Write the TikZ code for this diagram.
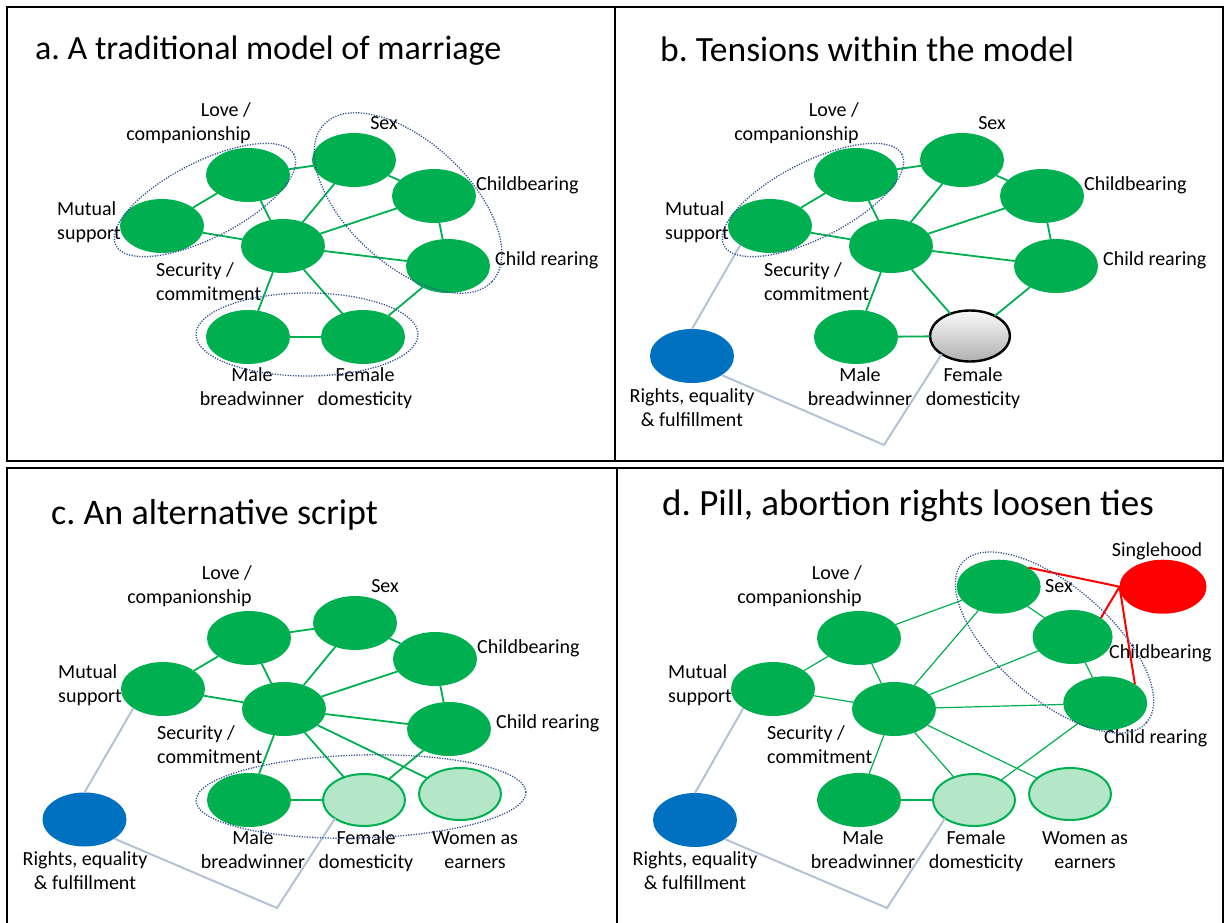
\documentclass[tikz,border=0pt]{standalone}
\usepackage{fontspec}
\setmainfont{Carlito}
\usetikzlibrary{shapes.geometric}
\frenchspacing

\definecolor{nodegreen}{RGB}{0,176,80}
\definecolor{palegreen}{RGB}{180,230,200}
\definecolor{rightsblue}{RGB}{0,112,192}
\definecolor{groupblue}{RGB}{50,80,150}
\definecolor{tiegray}{RGB}{180,194,214}

\begin{document}
\begin{tikzpicture}[x=1pt, y=-1pt,
  blob/.style={ellipse, minimum width=84, minimum height=54, inner sep=0, outer sep=0},
  core/.style={blob, fill=nodegreen},
  faded/.style={blob, minimum width=82, minimum height=52, fill=palegreen, draw=nodegreen, line width=2},
  rights/.style={blob, fill=rightsblue},
  single/.style={blob, minimum width=87, fill=red},
  strained/.style={blob, minimum width=80, minimum height=51, draw=black, line width=2.4,
                   top color=gray!4, bottom color=gray!62},
  link/.style={draw=nodegreen, line width=1.8},
  thinlink/.style={draw=nodegreen, line width=1.2},
  tie/.style={draw=tiegray, line width=2},
  redtie/.style={draw=red, line width=2},
  group/.style={ellipse, draw=groupblue, line width=1.3, dash pattern=on 1.2pt off 1.4pt, inner sep=0},
  lab/.style={font=\fontsize{20}{24}\selectfont, inner sep=0},
  heading/.style={anchor=base west, inner sep=0},
  frame/.style={line width=2}]

\useasboundingbox[fill=white] (0,0) rectangle (1228,923);

% panel frames
\draw[frame] (7,7) rectangle (1223,461);
\draw[frame] (615,7) -- (615,461);
\draw[frame] (7,923) -- (7,468) -- (1223,468) -- (1223,923);
\draw[frame] (617,468) -- (617,923);

% ---------------- a. traditional model ----------------
\begin{scope}
\node[heading, font=\fontsize{34}{40}\selectfont] (a-title) at (35,60) {a. A traditional model of marriage};
\node[core] (a-love)  at (248,175) {};
\node[core] (a-mut)   at (162,226) {};
\node[core] (a-sex)   at (354,160) {};
\node[core] (a-cbear) at (434,196) {};
\node[core] (a-sec)   at (283,246) {};
\node[core] (a-crear) at (448,266) {};
\node[core] (a-male)  at (248,337) {};
\node[core] (a-fem)   at (363,337) {};
\draw[link] (a-mut) -- (a-love);
\draw[link] (a-love) -- (a-sec);
\draw[link] (a-love) -- (a-sex);
\draw[link] (a-mut) -- (a-sec);
\draw[link] (a-sex) -- (a-sec);
\draw[link] (a-sex) -- (a-cbear);
\draw[link] (a-cbear) -- (a-sec);
\draw[link] (a-cbear) -- (a-crear);
\draw[link] (a-sec) -- (a-crear);
\draw[link] (a-sec) -- (a-male);
\draw[link] (a-sec) -- (a-fem);
\draw[link] (a-male) -- (a-fem);
\draw[link] (a-fem) -- (a-crear);
\node[lab, align=right, anchor=east] (a-lovel) at (251,123.5) {Love /\strut\\companionship\strut};
\node[lab] (a-sexl) at (384,125) {Sex\strut};
\node[lab, anchor=west] (a-cbearl) at (476,186) {Childbearing\strut};
\node[lab, anchor=west] (a-crearl) at (495,261) {Child rearing\strut};
\node[lab, align=left, anchor=west] (a-mutl) at (57,223) {Mutual\strut\\support\strut};
\node[lab, align=left, anchor=west] (a-secl) at (156,284) {Security /\strut\\commitment\strut};
\node[lab, align=center] (a-malel) at (252,389) {Male\strut\\breadwinner\strut};
\node[lab, align=center] (a-feml) at (365,389) {Female\strut\\domesticity\strut};
\node[group, minimum width=200, minimum height=76, rotate=27] (a-g1) at (205,200) {};
\node[group, minimum width=230, minimum height=122, rotate=-43] (a-g2) at (408,203) {};
\node[group, minimum width=222, minimum height=83] (a-g3) at (307,334.5) {};
\end{scope}

% ---------------- b. tensions ----------------
\begin{scope}[shift={(608,0)}]
\node[heading, font=\fontsize{35.5}{42}\selectfont] (b-title) at (52,62) {b. Tensions within the model};
\node[core] (b-love)  at (248,175) {};
\node[core] (b-mut)   at (162,226) {};
\node[core] (b-sex)   at (354,160) {};
\node[core] (b-cbear) at (434,196) {};
\node[core] (b-sec)   at (283,246) {};
\node[core] (b-crear) at (448,266) {};
\node[core] (b-male)  at (248,337) {};
\node[strained] (b-fem) at (362,336) {};
\node[rights] (b-rights) at (84,356) {};
\coordinate (b-kink) at (276,445);
\draw[link] (b-mut) -- (b-love);
\draw[link] (b-love) -- (b-sec);
\draw[link] (b-love) -- (b-sex);
\draw[link] (b-mut) -- (b-sec);
\draw[link] (b-sex) -- (b-sec);
\draw[link] (b-sex) -- (b-cbear);
\draw[link] (b-cbear) -- (b-sec);
\draw[link] (b-cbear) -- (b-crear);
\draw[link] (b-sec) -- (b-crear);
\draw[link] (b-sec) -- (b-male);
\draw[link] (b-sec) -- (b-fem);
\draw[link] (b-male) -- (b-fem);
\draw[link] (b-fem) -- (b-crear);
\draw[tie] (b-rights.north) -- (b-mut.south west);
\draw[tie] (b-rights.south east) -- (b-kink) -- (b-fem.south west);
\node[lab, align=right, anchor=east] (b-lovel) at (251,123.5) {Love /\strut\\companionship\strut};
\node[lab] (b-sexl) at (384,125) {Sex\strut};
\node[lab, anchor=west] (b-cbearl) at (476,186) {Childbearing\strut};
\node[lab, anchor=west] (b-crearl) at (495,261) {Child rearing\strut};
\node[lab, align=left, anchor=west] (b-mutl) at (57,223) {Mutual\strut\\support\strut};
\node[lab, align=left, anchor=west] (b-secl) at (156,284) {Security /\strut\\commitment\strut};
\node[lab, align=center] (b-malel) at (252,389) {Male\strut\\breadwinner\strut};
\node[lab, align=center] (b-feml) at (365,389) {Female\strut\\domesticity\strut};
\node[lab, align=center] (b-rightsl) at (84,410) {Rights, equality\strut\\\& fulfillment\strut};
\node[group, minimum width=200, minimum height=76, rotate=27] (b-g1) at (205,200) {};
\end{scope}

% ---------------- c. alternative script ----------------
\begin{scope}[shift={(1,463)}]
\node[heading, font=\fontsize{36}{42}\selectfont] (c-title) at (50,61) {c. An alternative script};
\node[core] (c-love)  at (248,175) {};
\node[core] (c-mut)   at (162,226) {};
\node[core] (c-sex)   at (354,160) {};
\node[core] (c-cbear) at (434,196) {};
\node[core] (c-sec)   at (283,246) {};
\node[core] (c-crear) at (448,266) {};
\node[core] (c-male)  at (248,337) {};
\node[faded] (c-fem)  at (363,337) {};
\node[faded] (c-women) at (459,331) {};
\node[rights] (c-rights) at (83.5,356.5) {};
\coordinate (c-kink) at (276,445);
\draw[link] (c-mut) -- (c-love);
\draw[link] (c-love) -- (c-sec);
\draw[link] (c-love) -- (c-sex);
\draw[link] (c-mut) -- (c-sec);
\draw[link] (c-sex) -- (c-sec);
\draw[link] (c-sex) -- (c-cbear);
\draw[link] (c-cbear) -- (c-sec);
\draw[link] (c-cbear) -- (c-crear);
\draw[link] (c-sec) -- (c-crear);
\draw[link] (c-sec) -- (c-male);
\draw[link] (c-sec) -- (c-fem);
\draw[link] (c-sec) -- (c-women);
\draw[link] (c-male) -- (c-fem);
\draw[link] (c-fem) -- (c-crear);
\draw[tie] (c-rights.north) -- (c-mut.south west);
\draw[tie] (c-rights.south east) -- (c-kink) -- (c-fem.south west);
\node[lab, align=right, anchor=east] (c-lovel) at (251,123.5) {Love /\strut\\companionship\strut};
\node[lab] (c-sexl) at (384,125) {Sex\strut};
\node[lab, anchor=west] (c-cbearl) at (476,186) {Childbearing\strut};
\node[lab, anchor=west] (c-crearl) at (495,261) {Child rearing\strut};
\node[lab, align=left, anchor=west] (c-mutl) at (57,223) {Mutual\strut\\support\strut};
\node[lab, align=left, anchor=west] (c-secl) at (156,284) {Security /\strut\\commitment\strut};
\node[lab, align=center] (c-malel) at (252,389) {Male\strut\\breadwinner\strut};
\node[lab, align=center] (c-feml) at (365,389) {Female\strut\\domesticity\strut};
\node[lab, align=center] (c-womenl) at (474,389) {Women as\strut\\earners\strut};
\node[lab, align=center] (c-rightsl) at (84,410) {Rights, equality\strut\\\& fulfillment\strut};
\node[group, minimum width=330, minimum height=83, rotate=1.5] (c-g1) at (360,333.5) {};
\end{scope}

% ---------------- d. loosened ties ----------------
\begin{scope}[shift={(611,463)}]
\node[heading, font=\fontsize{37}{44}\selectfont] (d-title) at (51,52) {d. Pill, abortion rights loosen ties};
\node[core] (d-love)  at (248,175) {};
\node[core] (d-mut)   at (162,226) {};
\node[core] (d-sex)   at (387.7,123.7) {};
\node[core, minimum width=80] (d-cbear) at (461.6,174) {};
\node[core] (d-sec)   at (283,246) {};
\node[core] (d-crear) at (494.2,240.3) {};
\node[core] (d-male)  at (248,337) {};
\node[faded] (d-fem)  at (363,337) {};
\node[faded] (d-women) at (459,331) {};
\node[rights] (d-rights) at (84,357) {};
\node[single] (d-single) at (552,123.7) {};
\coordinate (d-kink) at (276,445);
\draw[thinlink] (d-mut) -- (d-love);
\draw[thinlink] (d-love) -- (d-sec);
\draw[thinlink] (d-love) -- (d-sex);
\draw[thinlink] (d-mut) -- (d-sec);
\draw[thinlink] (d-sex) -- (d-sec);
\draw[thinlink] (d-sex) -- (d-cbear);
\draw[thinlink] (d-cbear) -- (d-sec);
\draw[thinlink] (d-cbear) -- (d-crear);
\draw[thinlink] (d-sec) -- (d-crear);
\draw[thinlink] (d-sec) -- (d-male);
\draw[thinlink] (d-sec) -- (d-fem);
\draw[thinlink] (d-sec) -- (d-women);
\draw[thinlink] (d-male) -- (d-fem);
\draw[thinlink] (d-fem) -- (d-crear);
\draw[redtie] (d-single.west) -- (d-sex.north east);
\draw[redtie] (d-single.west) -- (d-cbear.north east);
\draw[redtie] (d-single.west) -- (d-crear.north east);
\draw[tie] (d-rights.north) -- (d-mut.south west);
\draw[tie] (d-rights.south east) -- (d-kink) -- (d-fem.south west);
\node[lab, align=right, anchor=east] (d-lovel) at (251,123.5) {Love /\strut\\companionship\strut};
\node[lab, anchor=west] (d-sexl) at (434,125) {Sex\strut};
\node[lab] (d-singlel) at (546,89) {Singlehood\strut};
\node[lab, anchor=west] (d-cbearl) at (498,190.5) {Childbearing\strut};
\node[lab, anchor=west] (d-crearl) at (493,276) {Child rearing\strut};
\node[lab, align=left, anchor=west] (d-mutl) at (57,223) {Mutual\strut\\support\strut};
\node[lab, align=left, anchor=west] (d-secl) at (156,284) {Security /\strut\\commitment\strut};
\node[lab, align=center] (d-malel) at (252,389) {Male\strut\\breadwinner\strut};
\node[lab, align=center] (d-feml) at (365,389) {Female\strut\\domesticity\strut};
\node[lab, align=center] (d-womenl) at (474,389) {Women as\strut\\earners\strut};
\node[lab, align=center] (d-rightsl) at (84,410) {Rights, equality\strut\\\& fulfillment\strut};
\node[group, minimum width=244, minimum height=112, rotate=-41] (d-g1) at (443.5,179.5) {};
\end{scope}

\end{tikzpicture}
\end{document}
